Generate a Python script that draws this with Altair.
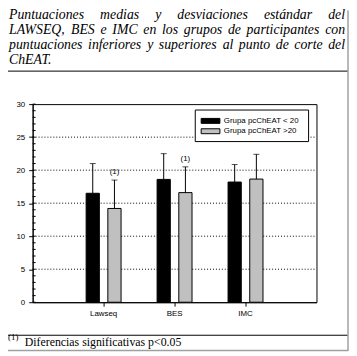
import altair as alt
import pandas as pd

# ---------------- data ----------------
categories = ["Lawseq", "BES", "IMC"]
groups = ["Grupa pcChEAT < 20", "Grupa pcChEAT >20"]
colors = ["#000000", "#c0c0c0"]
means_low = [16.5, 18.6, 18.2]
sd_low = [4.5, 3.9, 2.65]
means_high = [14.2, 16.6, 18.65]
sd_high = [4.3, 3.9, 3.75]
sig_high = [1, 1, 0]
y_ticks = [0, 5, 10, 15, 20, 25, 30]
grid_values = [5, 10, 15, 20, 25]
minor_ticks = list(range(0, 31))

title_lines = [
    "Puntuaciones medias y desviaciones estándar del",
    "LAWSEQ, BES e IMC en los grupos de participantes con",
    "puntuaciones inferiores y superiores al punto de corte del",
    "ChEAT.",
]
footnote_mark = "(1)"
footnote_text = "Diferencias significativas p<0.05"
sig_label = "(1)"

# ---------------- tables ----------------
rows = []
for i, c in enumerate(categories):
    rows.append(dict(cat=c, group=groups[0], mean=means_low[i], sd=sd_low[i],
                     upper=means_low[i] + sd_low[i], sig=0))
    rows.append(dict(cat=c, group=groups[1], mean=means_high[i], sd=sd_high[i],
                     upper=means_high[i] + sd_high[i], sig=sig_high[i]))
df = pd.DataFrame(rows)
df_sig = df[df["sig"] == 1]
minor_df = pd.DataFrame({"v": minor_ticks})
grid_df = pd.DataFrame({"v": grid_values})
dummy = pd.DataFrame({"d": [0]})

# Times-like italic advance widths (per 1000 em) for justified title layout
W = {' ': 250, ',': 250, '.': 250, 'A': 611, 'B': 611, 'C': 667, 'E': 611, 'I': 333,
     'L': 556, 'M': 833, 'P': 611, 'Q': 722, 'S': 500, 'T': 556, 'W': 833, 'h': 500,
     'a': 500, 'c': 444, 'd': 500, 'e': 444, 'f': 278, 'g': 500, 'i': 278, 'l': 278,
     'm': 722, 'n': 500, 'o': 500, 'p': 500, 'r': 389, 's': 389, 't': 278, 'u': 500,
     'v': 444, 'y': 444, 'á': 500}
TFS = 14
LEFT, RIGHT = -24, 317
baselines = [-86, -71, -56, -41]


def wwidth(w):
    return sum(W.get(ch, 500) for ch in w) * TFS / 1000.0


word_rows = []
for li, line in enumerate(title_lines):
    words = line.split(" ")
    if li < len(title_lines) - 1 and len(words) > 1:
        total = sum(wwidth(w) for w in words)
        gap = (RIGHT - LEFT - total) / (len(words) - 1)
    else:
        gap = W[' '] * TFS / 1000.0
    x = LEFT
    for w in words:
        word_rows.append(dict(word=w, px=x, py=baselines[li]))
        x += wwidth(w) + gap
words_df = pd.DataFrame(word_rows)

legend_df = pd.DataFrame({"group": groups, "sy": [14.5, 25], "sy2": [19.5, 30], "ty": [17, 27.5]})

# ---------------- encodings ----------------
SANS = "Liberation Sans"
SERIF = "Liberation Serif"

xaxis = alt.Axis(labelAngle=0, tickSize=4, labelPadding=3, domainColor="black",
                 tickColor="black", labelColor="black", labelFont=SANS, labelFontSize=8,
                 grid=False)
xenc = alt.X("cat:N", sort=categories, title=None,
             scale=alt.Scale(paddingInner=0, paddingOuter=0.5), axis=xaxis)
xoff = alt.XOffset("group:N", sort=groups, scale=alt.Scale(paddingInner=0.39, paddingOuter=0.83))
yscale = alt.Scale(domain=[0, 30], nice=False)
yaxis = alt.Axis(values=y_ticks, labelOverlap=False, grid=False,
                 tickSize=4, labelPadding=4, domainColor="black", tickColor="black",
                 labelColor="black", labelFont=SANS, labelFontSize=8)
color = alt.Color("group:N", sort=groups, scale=alt.Scale(domain=groups, range=colors), legend=None)


def yq(field):
    return alt.Y(field, scale=yscale, axis=yaxis, title=None)


grid = alt.Chart(grid_df).mark_rule(color="black", strokeWidth=1, strokeDash=[1, 2]).encode(
    y=yq("v:Q"), x=alt.value(0), x2=alt.value(288))
bars = alt.Chart(df).mark_bar(stroke="black", strokeWidth=1).encode(
    x=xenc, xOffset=xoff, y=yq("mean:Q"), color=color)
rules = alt.Chart(df).mark_rule(color="black", strokeWidth=1).encode(
    x=xenc, xOffset=xoff, y=yq("mean:Q"), y2="upper:Q")
caps = alt.Chart(df).mark_tick(color="black", size=6, thickness=1).encode(
    x=xenc, xOffset=xoff, y=yq("upper:Q"))
sigtext = alt.Chart(df_sig).mark_text(baseline="bottom", dy=-4, font=SANS, fontSize=8, color="black").encode(
    x=xenc, xOffset=xoff, y=yq("upper:Q"), text=alt.value(sig_label))
minor = alt.Chart(minor_df).mark_rule(color="black", strokeWidth=1).encode(
    y=yq("v:Q"), x=alt.value(0), x2=alt.value(3))

# legend (drawn)
leg_box = alt.Chart(dummy).mark_rect(fill="white", stroke="black", strokeWidth=1).encode(
    x=alt.value(165), x2=alt.value(280), y=alt.value(6), y2=alt.value(38))
leg_sw = alt.Chart(legend_df).mark_rect(stroke="black", strokeWidth=1).encode(
    x=alt.value(171), x2=alt.value(190), y=alt.Y("sy:Q", scale=None), y2="sy2:Q", color=color)
leg_tx = alt.Chart(legend_df).mark_text(align="left", baseline="middle", font=SANS, fontSize=8,
                                       color="black").encode(
    x=alt.value(194), y=alt.Y("ty:Q", scale=None), text="group:N")

# title & frame
title_tx = alt.Chart(words_df).mark_text(align="left", baseline="alphabetic", font=SERIF,
                                         fontStyle="italic", fontSize=TFS, color="black").encode(
    x=alt.X("px:Q", scale=None), y=alt.Y("py:Q", scale=None), text="word:N")
line_top = alt.Chart(dummy).mark_rule(color="black", strokeWidth=1).encode(
    x=alt.value(-25), x2=alt.value(320), y=alt.value(-33.5))
line_bot = alt.Chart(dummy).mark_rule(color="black", strokeWidth=1).encode(
    x=alt.value(-25), x2=alt.value(320), y=alt.value(234.5))
border_r = alt.Chart(dummy).mark_rule(color="#a0a0a0", strokeWidth=1.5).encode(
    x=alt.value(320), y=alt.value(-95), y2=alt.value(250))
border_b = alt.Chart(dummy).mark_rule(color="#a0a0a0", strokeWidth=1.5).encode(
    x=alt.value(-25), x2=alt.value(320.5), y=alt.value(250))
fn_mark = alt.Chart(dummy).mark_text(align="left", baseline="alphabetic", font=SERIF, fontSize=9,
                                     color="black").encode(
    x=alt.value(-25), y=alt.value(239), text=alt.value(footnote_mark))
fn_text = alt.Chart(dummy).mark_text(align="left", baseline="alphabetic", font=SERIF, fontSize=12,
                                     color="black").encode(
    x=alt.value(-8), y=alt.value(245), text=alt.value(footnote_text))

chart = alt.layer(
    grid, bars, rules, caps, sigtext, minor,
    leg_box, leg_sw, leg_tx,
    title_tx, line_top, line_bot, border_r, border_b, fn_mark, fn_text,
).properties(
    width=288, height=201,
    autosize=alt.AutoSizeParams(type="none"),
    padding={"left": 25, "top": 95, "right": 33, "bottom": 50},
    background="white",
).configure_view(stroke="black", strokeWidth=1)

chart.save("out.html", embed_options={"renderer": "svg", "actions": False})
